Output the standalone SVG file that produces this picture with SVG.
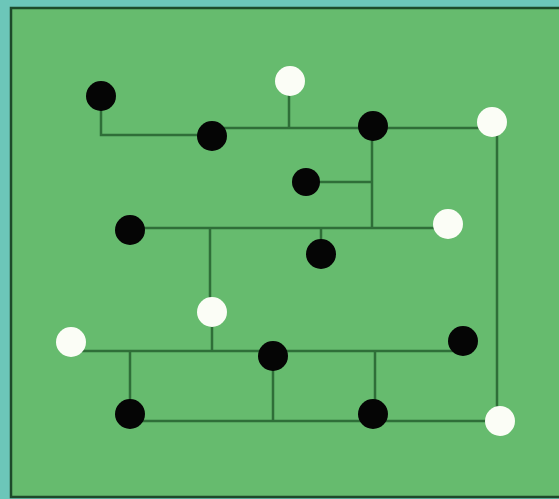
<svg xmlns="http://www.w3.org/2000/svg" width="559" height="499" viewBox="0 0 559 499">
<style>
.w{stroke:#2f6e38;stroke-width:2.5;fill:none}
.b{fill:#050505}
.o{fill:#fbfdf6}
</style>
<rect x="0" y="0" width="559" height="499" fill="#6cc6b9"/>
<rect x="11" y="8" width="552" height="489" fill="#66bb6e" stroke="#1d4a2a" stroke-width="2.5"/>
<g id="connectors">
<path class="w" d="M101,96 V135 H212"/>
<path class="w" d="M212,128 H492"/>
<path class="w" d="M289,81 V128"/>
<path class="w" d="M372,126 V228"/>
<path class="w" d="M306,182 H372"/>
<path class="w" d="M497,122 V421"/>
<path class="w" d="M130,228 H448"/>
<path class="w" d="M321,228 V254"/>
<path class="w" d="M210,228 V312"/>
<path class="w" d="M212,312 V351"/>
<path class="w" d="M71,351 H463"/>
<path class="w" d="M130,351 V421"/>
<path class="w" d="M273,356 V421"/>
<path class="w" d="M375,351 V414"/>
<path class="w" d="M130,421 H500"/>
</g>
<g id="n1"><circle class="b" cx="101" cy="96" r="15"/></g>
<g id="n2"><circle class="b" cx="212" cy="136" r="15"/></g>
<g id="n3"><circle class="o" cx="290" cy="81" r="15"/></g>
<g id="n4"><circle class="b" cx="373" cy="126" r="15"/></g>
<g id="n5"><circle class="o" cx="492" cy="122" r="15"/></g>
<g id="n6"><circle class="b" cx="306" cy="182" r="14"/></g>
<g id="n7"><circle class="b" cx="130" cy="230" r="15"/></g>
<g id="n8"><circle class="o" cx="448" cy="224" r="15"/></g>
<g id="n9"><circle class="b" cx="321" cy="254" r="15"/></g>
<g id="n10"><circle class="o" cx="212" cy="312" r="15"/></g>
<g id="n11"><circle class="o" cx="71" cy="342" r="15"/></g>
<g id="n12"><circle class="b" cx="273" cy="356" r="15"/></g>
<g id="n13"><circle class="b" cx="463" cy="341" r="15"/></g>
<g id="n14"><circle class="b" cx="130" cy="414" r="15"/></g>
<g id="n15"><circle class="b" cx="373" cy="414" r="15"/></g>
<g id="n16"><circle class="o" cx="500" cy="421" r="15"/></g>
</svg>
